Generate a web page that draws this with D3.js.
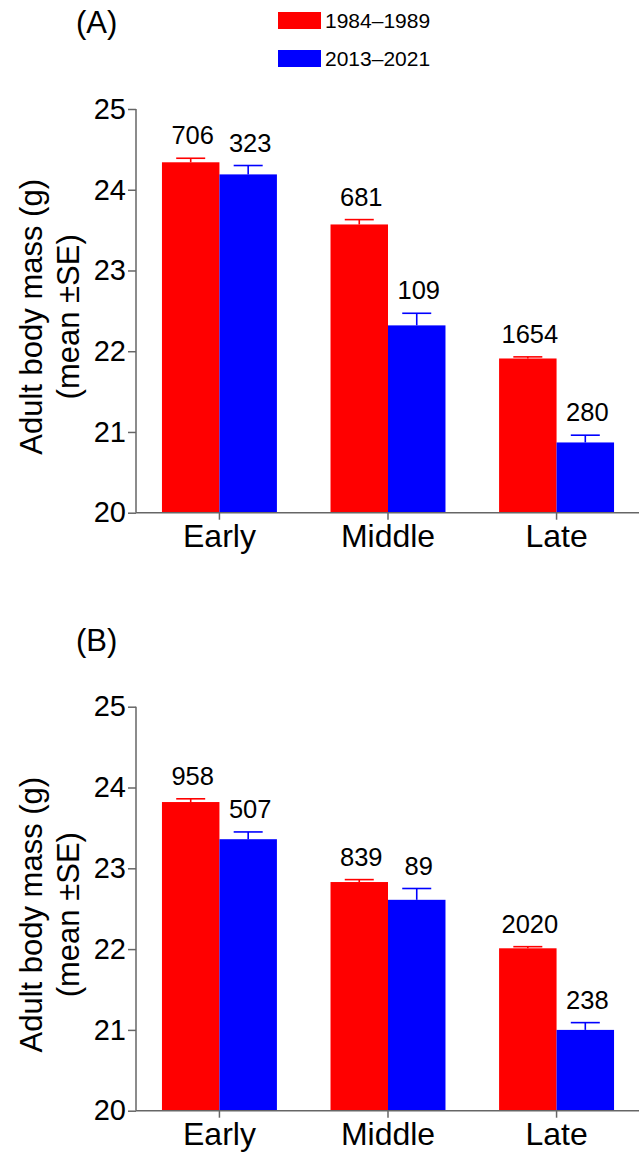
<!DOCTYPE html>
<html>
<head>
<meta charset="utf-8">
<script src="https://cdn.jsdelivr.net/npm/d3@7"></script>
<style>
  body { margin: 0; background: #fff; }
  svg { display: block; font-family: "Liberation Sans", Arial, sans-serif; }
</style>
</head>
<body>
<svg id="chart" width="639" height="1153"></svg>
<script>
// data
let periods = ["Early", "Middle", "Late"];
let seriesNames = ["1984\u20131989", "2013\u20132021"];
let seriesColors = ["#ff0000", "#0000ff"];
let yTicks = [20, 21, 22, 23, 24, 25];

// panel A
let meanA_old = [24.34, 23.57, 21.91];
let seA_old = [0.05, 0.06, 0.02];
let nA_old = [706, 681, 1654];
let meanA_new = [24.19, 22.32, 20.87];
let seA_new = [0.11, 0.15, 0.09];
let nA_new = [323, 109, 280];

// panel B
let meanB_old = [23.82, 22.83, 22.01];
let seB_old = [0.04, 0.03, 0.02];
let nB_old = [958, 839, 2020];
let meanB_new = [23.36, 22.61, 21.00];
let seB_new = [0.09, 0.14, 0.09];
let nB_new = [507, 89, 238];

let svg = d3.select("#chart");
let axisColor = "#666";

function buildRows(meanOld, seOld, nOld, meanNew, seNew, nNew) {
    let rows = [];
    _rowsFor(rows, 0, meanOld, seOld, nOld);
    _rowsFor(rows, 1, meanNew, seNew, nNew);
    return rows;
}

function _rowsFor(rows, s, means, ses, ns) {
    for (let i = 0; i < periods.length; i++) {
        rows.push({period: periods[i], series: s, mean: means[i], se: ses[i], n: ns[i]});
    }
}

function drawPanel(title, top, bottom, titleY, rows) {
    let g = svg.append("g");

    let x = d3.scaleBand()
        .domain(periods)
        .range([136, 640])
        .paddingInner(0.318)
        .paddingOuter(0.154);
    let xs = d3.scaleBand()
        .domain([0, 1])
        .range([0, x.bandwidth()]);
    let y = d3.scaleLinear()
        .domain([20, 25])
        .range([bottom, top]);

    // bars
    g.selectAll("rect.bar")
        .data(rows)
        .enter()
        .append("rect")
        .attr("class", "bar")
        .attr("x", function (d) { return x(d.period) + xs(d.series); })
        .attr("y", function (d) { return y(d.mean); })
        .attr("width", xs.bandwidth())
        .attr("height", function (d) { return y(20) - y(d.mean); })
        .attr("fill", function (d) { return seriesColors[d.series]; });

    // error bars (upper half only)
    let err = g.selectAll("g.err")
        .data(rows)
        .enter()
        .append("g")
        .attr("stroke", function (d) { return seriesColors[d.series]; })
        .attr("stroke-width", 1.6);
    err.append("line")
        .attr("x1", function (d) { return x(d.period) + xs(d.series) + xs.bandwidth() / 2; })
        .attr("x2", function (d) { return x(d.period) + xs(d.series) + xs.bandwidth() / 2; })
        .attr("y1", function (d) { return y(d.mean); })
        .attr("y2", function (d) { return y(d.mean + d.se); });
    err.append("line")
        .attr("x1", function (d) { return x(d.period) + xs(d.series) + xs.bandwidth() / 2 - 14.5; })
        .attr("x2", function (d) { return x(d.period) + xs(d.series) + xs.bandwidth() / 2 + 14.5; })
        .attr("y1", function (d) { return y(d.mean + d.se); })
        .attr("y2", function (d) { return y(d.mean + d.se); });

    // sample sizes
    g.selectAll("text.n")
        .data(rows)
        .enter()
        .append("text")
        .attr("class", "n")
        .attr("x", function (d) { return x(d.period) + xs(d.series) + xs.bandwidth() / 2 + 2; })
        .attr("y", function (d) { return y(d.mean + d.se) - 14; })
        .attr("text-anchor", "middle")
        .attr("font-size", "25.5px")
        .attr("fill", "#000")
        .text(function (d) { return d.n; });

    // y axis
    let yAxis = g.append("g")
        .attr("transform", "translate(136,0)")
        .call(d3.axisLeft(y).tickValues(yTicks).tickSize(8).tickPadding(2).tickFormat(d3.format("d")));
    yAxis.selectAll("path, line").attr("stroke", axisColor).attr("stroke-width", 1.5);
    yAxis.select("path").attr("d", "M0," + top + "V" + bottom);
    yAxis.selectAll("text").attr("font-size", "29px").attr("fill", "#000").attr("font-family", null);

    // x axis
    let xAxis = g.append("g")
        .attr("transform", "translate(0," + bottom + ")")
        .call(d3.axisBottom(x).tickSize(7).tickPadding(5).tickSizeOuter(0));
    xAxis.selectAll("path, line").attr("stroke", axisColor).attr("stroke-width", 1.5);
    xAxis.select("path").attr("d", "M136,0H639");
    xAxis.selectAll("text").attr("font-size", "32px").attr("fill", "#000").attr("font-family", null);

    // axis title
    let mid = (top + bottom) / 2 + 6;
    let yt = g.append("text")
        .attr("transform", "translate(0," + mid + ") rotate(-90)")
        .attr("text-anchor", "middle")
        .attr("font-size", "31px")
        .attr("fill", "#000");
    yt.append("tspan").attr("x", 0).attr("y", 42).text("Adult body mass (g)");
    yt.append("tspan").attr("x", 0).attr("y", 79).text("(mean \u00b1SE)");

    // panel letter
    g.append("text")
        .attr("x", 76)
        .attr("y", titleY)
        .attr("font-size", "31px")
        .attr("fill", "#000")
        .text(title);
}

drawPanel("(A)", 109, 512.7, 33, buildRows(meanA_old, seA_old, nA_old, meanA_new, seA_new, nA_new));
drawPanel("(B)", 706.7, 1110.7, 651, buildRows(meanB_old, seB_old, nB_old, meanB_new, seB_new, nB_new));

// legend
let legend = svg.append("g")
    .selectAll("g")
    .data(seriesNames)
    .enter()
    .append("g")
    .attr("transform", function (d, i) { return "translate(278," + (12 + i * 38) + ")"; });
legend.append("rect")
    .attr("width", 43)
    .attr("height", 17)
    .attr("fill", function (d, i) { return seriesColors[i]; });
legend.append("text")
    .attr("x", 47)
    .attr("y", 16)
    .attr("font-size", "21px")
    .attr("fill", "#000")
    .text(function (d) { return d; });
</script>
</body>
</html>
